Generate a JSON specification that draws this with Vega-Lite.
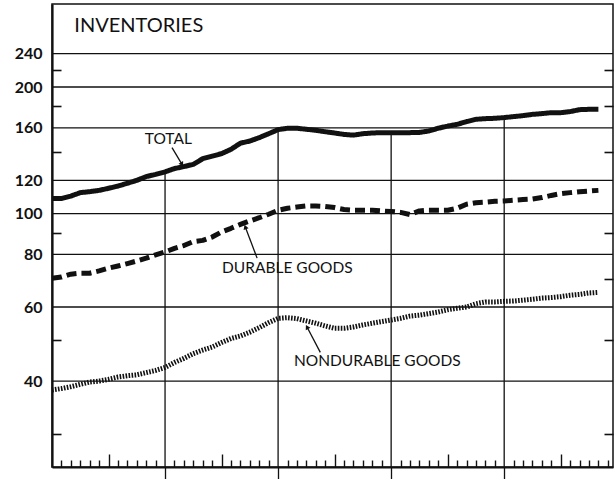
{
  "$schema": "https://vega.github.io/schema/vega-lite/v6.json",
  "width": 561,
  "height": 463,
  "autosize": {"type": "none"},
  "padding": {"left": 52, "top": 4, "right": 1, "bottom": 12},
  "background": "white",
  "config": {
    "view": {"stroke": "#111", "strokeWidth": 1.5},
    "axis": {"grid": false, "labels": false, "domain": false, "ticks": false, "tickColor": "#111", "tickWidth": 1.4, "domainColor": "#111"}
  },
  "datasets": {
    "series": [
      {"s":"Total","m":0,"v":108.6},{"s":"Total","m":1,"v":108.6},{"s":"Total","m":2,"v":110.1},{"s":"Total","m":3,"v":112.2},{"s":"Total","m":4,"v":112.8},{"s":"Total","m":5,"v":113.6},{"s":"Total","m":6,"v":114.9},{"s":"Total","m":7,"v":116.3},{"s":"Total","m":8,"v":118.1},{"s":"Total","m":9,"v":120},{"s":"Total","m":10,"v":122.5},{"s":"Total","m":11,"v":124},{"s":"Total","m":12,"v":125.7},{"s":"Total","m":13,"v":128},{"s":"Total","m":14,"v":129.4},{"s":"Total","m":15,"v":131},{"s":"Total","m":16,"v":135.1},{"s":"Total","m":17,"v":137},{"s":"Total","m":18,"v":138.9},{"s":"Total","m":19,"v":142.2},{"s":"Total","m":20,"v":147.1},{"s":"Total","m":21,"v":148.8},{"s":"Total","m":22,"v":151.6},{"s":"Total","m":23,"v":154.9},{"s":"Total","m":24,"v":158.4},{"s":"Total","m":25,"v":159.6},{"s":"Total","m":26,"v":159.6},{"s":"Total","m":27,"v":158.7},{"s":"Total","m":28,"v":157.8},{"s":"Total","m":29,"v":156.6},{"s":"Total","m":30,"v":155.5},{"s":"Total","m":31,"v":154.3},{"s":"Total","m":32,"v":153.7},{"s":"Total","m":33,"v":154.9},{"s":"Total","m":34,"v":155.5},{"s":"Total","m":35,"v":155.8},{"s":"Total","m":36,"v":155.8},{"s":"Total","m":37,"v":155.8},{"s":"Total","m":38,"v":155.8},{"s":"Total","m":39,"v":156},{"s":"Total","m":40,"v":157.2},{"s":"Total","m":41,"v":159.6},{"s":"Total","m":42,"v":161.5},{"s":"Total","m":43,"v":163},{"s":"Total","m":44,"v":165.5},{"s":"Total","m":45,"v":167.6},{"s":"Total","m":46,"v":168.2},{"s":"Total","m":47,"v":168.5},{"s":"Total","m":48,"v":169.2},{"s":"Total","m":49,"v":170.1},{"s":"Total","m":50,"v":171},{"s":"Total","m":51,"v":172.2},{"s":"Total","m":52,"v":172.9},{"s":"Total","m":53,"v":173.8},{"s":"Total","m":54,"v":173.8},{"s":"Total","m":55,"v":174.8},{"s":"Total","m":56,"v":176.7},{"s":"Total","m":57,"v":177},{"s":"Total","m":58,"v":177},
      {"s":"Durable goods","m":0,"v":70.2},{"s":"Durable goods","m":1,"v":70.7},{"s":"Durable goods","m":2,"v":71.8},{"s":"Durable goods","m":3,"v":72.2},{"s":"Durable goods","m":4,"v":72.2},{"s":"Durable goods","m":5,"v":73.1},{"s":"Durable goods","m":6,"v":74.2},{"s":"Durable goods","m":7,"v":75.1},{"s":"Durable goods","m":8,"v":76.1},{"s":"Durable goods","m":9,"v":77.2},{"s":"Durable goods","m":10,"v":78.4},{"s":"Durable goods","m":11,"v":79.8},{"s":"Durable goods","m":12,"v":81.1},{"s":"Durable goods","m":13,"v":82.7},{"s":"Durable goods","m":14,"v":84},{"s":"Durable goods","m":15,"v":85.8},{"s":"Durable goods","m":16,"v":86.4},{"s":"Durable goods","m":17,"v":88},{"s":"Durable goods","m":18,"v":90.5},{"s":"Durable goods","m":19,"v":92.3},{"s":"Durable goods","m":20,"v":94.3},{"s":"Durable goods","m":21,"v":96.1},{"s":"Durable goods","m":22,"v":97.8},{"s":"Durable goods","m":23,"v":99.7},{"s":"Durable goods","m":24,"v":101.9},{"s":"Durable goods","m":25,"v":103},{"s":"Durable goods","m":26,"v":103.7},{"s":"Durable goods","m":27,"v":104.3},{"s":"Durable goods","m":28,"v":104.3},{"s":"Durable goods","m":29,"v":104},{"s":"Durable goods","m":30,"v":103.4},{"s":"Durable goods","m":31,"v":102.3},{"s":"Durable goods","m":32,"v":101.9},{"s":"Durable goods","m":33,"v":101.9},{"s":"Durable goods","m":34,"v":101.9},{"s":"Durable goods","m":35,"v":101.5},{"s":"Durable goods","m":36,"v":101.2},{"s":"Durable goods","m":37,"v":100.7},{"s":"Durable goods","m":38,"v":99.5},{"s":"Durable goods","m":39,"v":101.5},{"s":"Durable goods","m":40,"v":101.9},{"s":"Durable goods","m":41,"v":101.9},{"s":"Durable goods","m":42,"v":101.9},{"s":"Durable goods","m":43,"v":103},{"s":"Durable goods","m":44,"v":105.3},{"s":"Durable goods","m":45,"v":106.2},{"s":"Durable goods","m":46,"v":106.5},{"s":"Durable goods","m":47,"v":107},{"s":"Durable goods","m":48,"v":107.2},{"s":"Durable goods","m":49,"v":107.6},{"s":"Durable goods","m":50,"v":108},{"s":"Durable goods","m":51,"v":108.3},{"s":"Durable goods","m":52,"v":109.2},{"s":"Durable goods","m":53,"v":110.5},{"s":"Durable goods","m":54,"v":111.6},{"s":"Durable goods","m":55,"v":112.2},{"s":"Durable goods","m":56,"v":112.8},{"s":"Durable goods","m":57,"v":113.2},{"s":"Durable goods","m":58,"v":113.6},
      {"s":"Nondurable goods","m":0,"v":38.1},{"s":"Nondurable goods","m":1,"v":38.4},{"s":"Nondurable goods","m":2,"v":38.8},{"s":"Nondurable goods","m":3,"v":39.3},{"s":"Nondurable goods","m":4,"v":39.8},{"s":"Nondurable goods","m":5,"v":40},{"s":"Nondurable goods","m":6,"v":40.4},{"s":"Nondurable goods","m":7,"v":40.9},{"s":"Nondurable goods","m":8,"v":41.2},{"s":"Nondurable goods","m":9,"v":41.4},{"s":"Nondurable goods","m":10,"v":41.9},{"s":"Nondurable goods","m":11,"v":42.4},{"s":"Nondurable goods","m":12,"v":43.1},{"s":"Nondurable goods","m":13,"v":44.3},{"s":"Nondurable goods","m":14,"v":45.3},{"s":"Nondurable goods","m":15,"v":46.5},{"s":"Nondurable goods","m":16,"v":47.4},{"s":"Nondurable goods","m":17,"v":48.2},{"s":"Nondurable goods","m":18,"v":49.4},{"s":"Nondurable goods","m":19,"v":50.5},{"s":"Nondurable goods","m":20,"v":51.2},{"s":"Nondurable goods","m":21,"v":52.3},{"s":"Nondurable goods","m":22,"v":53.6},{"s":"Nondurable goods","m":23,"v":55.1},{"s":"Nondurable goods","m":24,"v":56.4},{"s":"Nondurable goods","m":25,"v":56.6},{"s":"Nondurable goods","m":26,"v":56.3},{"s":"Nondurable goods","m":27,"v":55.6},{"s":"Nondurable goods","m":28,"v":54.9},{"s":"Nondurable goods","m":29,"v":54.1},{"s":"Nondurable goods","m":30,"v":53.4},{"s":"Nondurable goods","m":31,"v":53.4},{"s":"Nondurable goods","m":32,"v":53.8},{"s":"Nondurable goods","m":33,"v":54.4},{"s":"Nondurable goods","m":34,"v":54.9},{"s":"Nondurable goods","m":35,"v":55.4},{"s":"Nondurable goods","m":36,"v":55.9},{"s":"Nondurable goods","m":37,"v":56.4},{"s":"Nondurable goods","m":38,"v":57.1},{"s":"Nondurable goods","m":39,"v":57.4},{"s":"Nondurable goods","m":40,"v":57.9},{"s":"Nondurable goods","m":41,"v":58.4},{"s":"Nondurable goods","m":42,"v":59.1},{"s":"Nondurable goods","m":43,"v":59.6},{"s":"Nondurable goods","m":44,"v":60},{"s":"Nondurable goods","m":45,"v":61.1},{"s":"Nondurable goods","m":46,"v":61.7},{"s":"Nondurable goods","m":47,"v":61.7},{"s":"Nondurable goods","m":48,"v":61.9},{"s":"Nondurable goods","m":49,"v":62},{"s":"Nondurable goods","m":50,"v":62.3},{"s":"Nondurable goods","m":51,"v":62.6},{"s":"Nondurable goods","m":52,"v":63},{"s":"Nondurable goods","m":53,"v":63.2},{"s":"Nondurable goods","m":54,"v":63.5},{"s":"Nondurable goods","m":55,"v":64},{"s":"Nondurable goods","m":56,"v":64.3},{"s":"Nondurable goods","m":57,"v":64.8},{"s":"Nondurable goods","m":58,"v":65}
    ],
    "grid": [{"g":240},{"g":200},{"g":160},{"g":120},{"g":100},{"g":80},{"g":60},{"g":40}],
    "notes": [
      {"label":"TOTAL","m":12.35,"v":150.2,"m1":12.74,"v1":143.5,"m2":13.8,"v2":131},
      {"label":"DURABLE GOODS","m":24.98,"v":74.2,"m1":21.77,"v1":78.4,"m2":20.52,"v2":93},
      {"label":"NONDURABLE GOODS","m":34.53,"v":44.7,"m1":28.48,"v1":46.8,"m2":27.07,"v2":53.8}
    ],
    "title": [{"t":"INVENTORIES","m":2.37,"v":279}]
  },
  "resolve": {"axis": {"x": "independent", "y": "independent"}},
  "layer": [
    {
      "data": {"name": "grid"},
      "mark": {"type": "rule", "stroke": "#111", "strokeWidth": 1.3},
      "encoding": {
        "y": {"field": "g", "type": "quantitative",
          "scale": {"type": "log", "domain": [25, 315], "nice": false},
          "axis": {"title": null, "orient": "left", "values": [240,200,160,120,100,80,60,40], "labels": true, "labelFont": "Lato", "labelFontWeight": "bold", "labelFontSize": 16, "labelColor": "#111", "labelPadding": 10, "domain": true, "domainWidth": 2.2}}
      }
    },
    {
      "data": {"name": "series"},
      "transform": [{"filter": "datum.s === 'Total' && datum.m > 0 && datum.m % 12 === 0"}],
      "mark": {"type": "rule", "stroke": "#111", "strokeWidth": 1.3},
      "encoding": {
        "x": {"field": "m", "type": "quantitative",
          "scale": {"domain": [0, 59.55], "nice": false, "zero": false},
          "axis": {"title": null, "orient": "bottom", "values": [12,24,36,48], "ticks": true, "tickSize": 12, "tickWidth": 1.3, "domain": true, "domainWidth": 2.2}},
        "y": {"field": "v", "type": "quantitative",
          "scale": {"type": "log", "domain": [25, 315], "nice": false},
          "axis": {"title": null, "orient": "left", "values": [220,180,140,90,50,30], "ticks": true, "tickSize": -9, "tickWidth": 1.6}},
        "y2": {"datum": 25}
      }
    },
    {
      "data": {"name": "series"},
      "mark": {"type": "line", "strokeWidth": 5, "color": "#111", "strokeCap": "butt", "strokeJoin": "round"},
      "encoding": {
        "x": {"field": "m", "type": "quantitative",
          "scale": {"domain": [0, 59.55], "nice": false, "zero": false},
          "axis": {"title": null, "orient": "bottom", "values": [1,2,3,4,5,7,8,9,10,11,13,14,15,16,17,19,20,21,22,23,25,26,27,28,29,31,32,33,34,35,37,38,39,40,41,43,44,45,46,47,49,50,51,52,53,55,56,57,58,59], "ticks": true, "tickSize": -7}},
        "y": {"field": "v", "type": "quantitative",
          "scale": {"type": "log", "domain": [25, 315], "nice": false},
          "axis": {"title": null, "orient": "right", "values": [220,180,140,90,70,50,30], "ticks": true, "tickSize": -9, "tickWidth": 1.6}},
        "strokeDash": {"field": "s", "type": "nominal",
          "scale": {"domain": ["Total", "Durable goods", "Nondurable goods"], "range": [[1, 0], [10, 5], [1.6, 1.4]]},
          "legend": null}
      }
    },
    {
      "data": {"name": "notes"},
      "mark": {"type": "text", "font": "Lato", "fontSize": 15.5, "align": "center", "baseline": "middle", "color": "#111"},
      "encoding": {
        "x": {"field": "m", "type": "quantitative",
          "scale": {"domain": [0, 59.55], "nice": false, "zero": false},
          "axis": {"title": null, "orient": "bottom", "values": [6,18,30,42,54], "ticks": true, "tickSize": -13}},
        "y": {"field": "v", "type": "quantitative", "scale": {"type": "log", "domain": [25, 315], "nice": false}, "axis": null},
        "text": {"field": "label"}
      }
    },
    {
      "data": {"name": "notes"},
      "mark": {"type": "rule", "stroke": "#111", "strokeWidth": 1.3},
      "encoding": {
        "x": {"field": "m1", "type": "quantitative", "scale": {"domain": [0, 59.55], "nice": false, "zero": false}, "axis": null},
        "y": {"field": "v1", "type": "quantitative", "scale": {"type": "log", "domain": [25, 315], "nice": false}, "axis": null},
        "x2": {"field": "m2"},
        "y2": {"field": "v2"}
      }
    },
    {
      "data": {"name": "notes"},
      "transform": [{"filter": "datum.label === 'TOTAL'"}],
      "mark": {"type": "point", "shape": "triangle-up", "filled": true, "size": 28, "angle": 149, "color": "#111", "opacity": 1},
      "encoding": {
        "x": {"field": "m2", "type": "quantitative", "scale": {"domain": [0, 59.55], "nice": false, "zero": false}, "axis": null},
        "y": {"field": "v2", "type": "quantitative", "scale": {"type": "log", "domain": [25, 315], "nice": false}, "axis": null}
      }
    },
    {
      "data": {"name": "notes"},
      "transform": [{"filter": "datum.label === 'DURABLE GOODS'"}],
      "mark": {"type": "point", "shape": "triangle-up", "filled": true, "size": 28, "angle": 340, "color": "#111", "opacity": 1},
      "encoding": {
        "x": {"field": "m2", "type": "quantitative", "scale": {"domain": [0, 59.55], "nice": false, "zero": false}, "axis": null},
        "y": {"field": "v2", "type": "quantitative", "scale": {"type": "log", "domain": [25, 315], "nice": false}, "axis": null}
      }
    },
    {
      "data": {"name": "notes"},
      "transform": [{"filter": "datum.label === 'NONDURABLE GOODS'"}],
      "mark": {"type": "point", "shape": "triangle-up", "filled": true, "size": 28, "angle": 332, "color": "#111", "opacity": 1},
      "encoding": {
        "x": {"field": "m2", "type": "quantitative", "scale": {"domain": [0, 59.55], "nice": false, "zero": false}, "axis": null},
        "y": {"field": "v2", "type": "quantitative", "scale": {"type": "log", "domain": [25, 315], "nice": false}, "axis": null}
      }
    },
    {
      "data": {"name": "title"},
      "mark": {"type": "text", "font": "Lato", "fontSize": 20, "align": "left", "baseline": "middle", "color": "#111"},
      "encoding": {
        "x": {"field": "m", "type": "quantitative", "scale": {"domain": [0, 59.55], "nice": false, "zero": false}, "axis": null},
        "y": {"field": "v", "type": "quantitative", "scale": {"type": "log", "domain": [25, 315], "nice": false}, "axis": null},
        "text": {"field": "t"}
      }
    }
  ]
}
